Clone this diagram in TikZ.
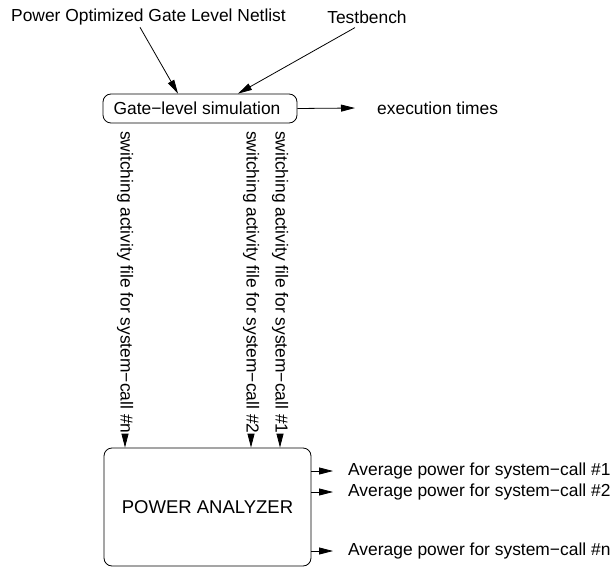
\documentclass[tikz,border=0pt]{standalone}
\usepackage{fontspec}
\setmainfont{Liberation Sans}
\usetikzlibrary{arrows.meta}
\begin{document}
\begin{tikzpicture}[x=1pt,y=-1pt,
  every node/.style={inner sep=0pt,font=\fontsize{17.4}{20}\selectfont},
  arr/.style={-{Triangle[length=14pt,width=7pt]},line width=0.8pt},
  lbl/.style={},
  vlbl/.style={rotate=-90,anchor=west},
  boxr/.style={draw,line width=0.8pt,rounded corners=8pt}]
\useasboundingbox (0,0) rectangle (615,569);
\node[lbl] (net) at (148.5,17) {Power Optimized Gate Level Netlist};
\node[lbl] (tb) at (367,17) {Testbench};
\node[boxr,minimum width=194pt,minimum height=29pt] (gls) at (200,108.5) {Gate−level simulation\hspace*{6pt}};
\node[lbl,anchor=west] (ex) at (377,108) {execution times};
\node[vlbl] (vn) at (125,131) {switching activity file for system−call \#n};
\node[vlbl] (v2) at (251,131) {switching activity file for system−call \#2};
\node[vlbl] (v1) at (280,131) {switching activity file for system−call \#1};
\node[boxr,minimum width=207pt,minimum height=118pt,font=\fontsize{18.5}{22}\selectfont] (pa) at (207.5,507) {POWER ANALYZER};
\node[lbl,anchor=west] (o1) at (348,471) {Average power for system−call \#1};
\node[lbl,anchor=west] (o2) at (348,492) {Average power for system−call \#2};
\node[lbl,anchor=west] (on) at (348,551) {Average power for system−call \#n};
\draw[arr] ([xshift=-8.5pt,yshift=-2pt]net.south) -- ([xshift=-22pt]gls.north);
\draw[arr] ([xshift=-12pt,yshift=-4pt]tb.south) -- ([xshift=38pt]gls.north);
\draw[arr] (gls.east) -- ([xshift=-22pt]ex.west);
\foreach \v in {vn,v2,v1}{
  \draw[arr] ([yshift=-3pt]\v.east) -- (\v.east |- pa.north);
}
\foreach \o in {o1,o2,on}{
  \draw[arr] (pa.east |- \o.west) -- ([xshift=-15pt]\o.west);
}
\end{tikzpicture}
\end{document}
